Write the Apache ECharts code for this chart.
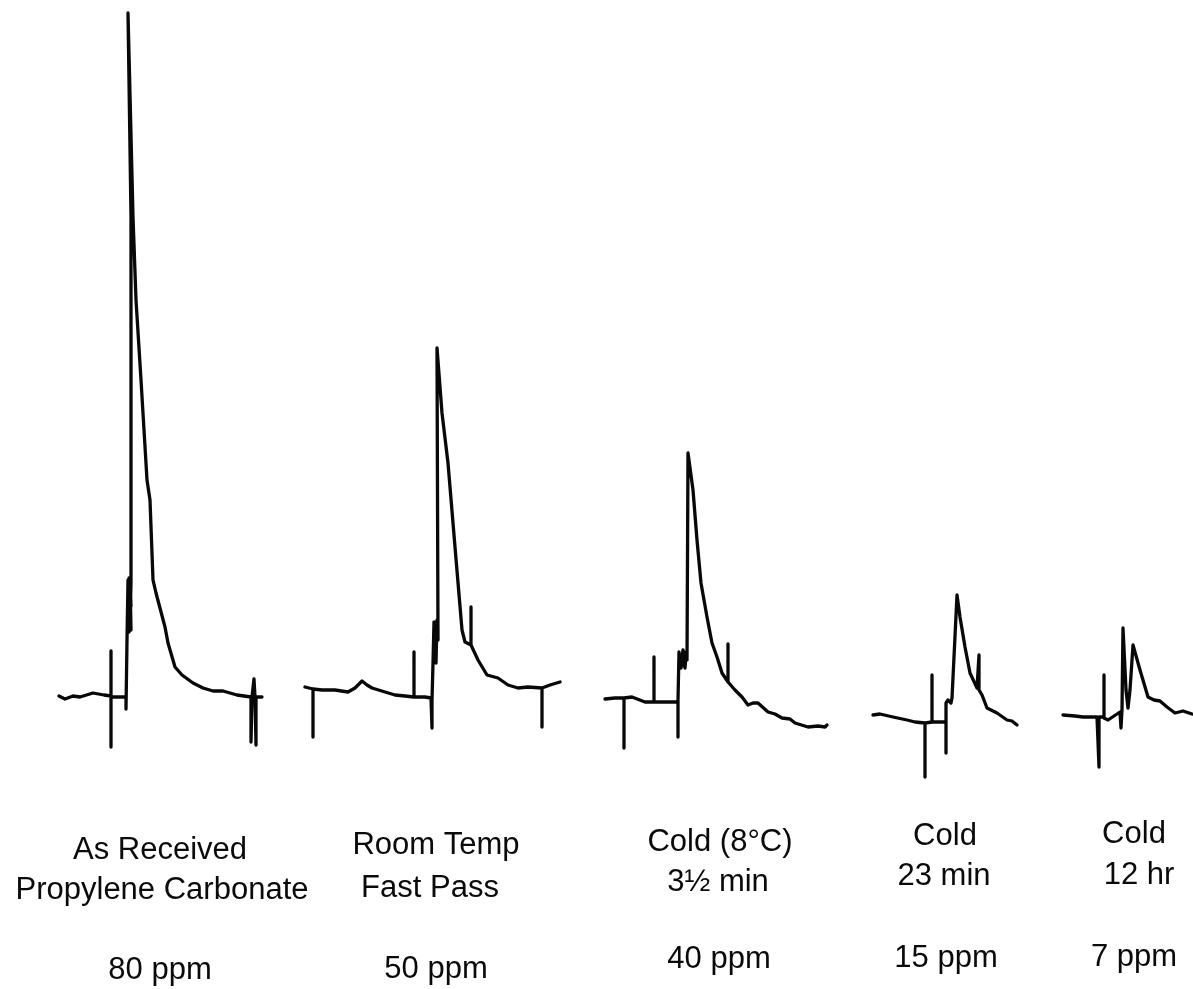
<!DOCTYPE html>
<html>
<head>
<meta charset="utf-8">
<title>Propylene Carbonate water traces</title>
<script src="https://cdn.jsdelivr.net/npm/echarts@6/dist/echarts.min.js"></script>
<style>
  html, body { margin: 0; padding: 0; background: #ffffff; }
  #chart { width: 1193px; height: 989px; }
</style>
</head>
<body>
<div id="chart"></div>
<script>
// Detector traces: [chart time, signal above baseline]; vertical event marks are part of each pen trace.
const traceAsReceived = [
  [0,0],[6,-3],[14,0],[21,-1],[34,3],[45,1],[52,0],[52,45],[52,-51],[52,-1],[59,-1],[67,-1],[67,-13],
  [68,56],[69,116],[70,64],[71,118],[72,66],[70,112],[71,70],[72,114],[69,80],[70,118],[72,90],[71,116],
  [72,111],[72,396],[72,479],[69,683],
  [74,479],[77,396],[82,316],[88,216],[91,196],[94,116],[97,103],[106,69],[109,53],[116,29],[123,21],
  [134,13],[144,8],[154,5],[164,5],[178,1],[192,-1],[192,-46],[193,-1],[195,-1],[195,17],[196,-1],
  [197,-1],[197,-49],[197,-1],[203,-1]
];
const traceRoomTemp = [
  [0,3],[8,1],[8,-47],[8,1],[17,0],[30,0],[43,-2],[50,2],[57,9],[62,5],[67,2],[80,-2],[90,-5],[100,-6],
  [109,-7],[109,38],[109,-7],[120,-7],[126,-8],[127,-38],[127,-10],[128,27],[129,68],[131,27],[132,70],
  [130,30],[131,66],[129,35],[132,62],[133,50],[132,342],[137,277],[143,227],[150,143],[157,60],[160,48],
  [166,45],[166,83],[166,45],
  [173,30],[182,15],[193,12],[203,5],[213,2],[223,3],[237,2],[237,-37],[237,2],[245,5],[255,8]
];
const traceCold35min = [
  [0,1],[10,2],[19,2],[19,-48],[19,2],[27,3],[40,-2],[49,-2],[49,43],[49,-2],[60,-2],[73,-2],[73,-37],
  [73,0],[74,48],[76,32],[78,50],[80,32],[81,45],[77,34],[79,48],[82,40],[83,247],[88,210],[92,160],
  [96,117],[102,83],[107,57],
  [112,43],[117,27],[123,18],[123,56],[123,18],[130,10],[137,3],[143,-5],[148,-3],[153,-3],[163,-12],
  [170,-14],[177,-18],[185,-19],[190,-23],[203,-27],[213,-26],[220,-27],[222,-25]
];
const traceCold23min = [
  [0,1],[7,2],[20,-1],[34,-4],[42,-6],[52,-7],[52,-61],[52,-7],[59,-6],[59,41],[59,-6],[70,-6],[73,-6],
  [73,-37],[73,13],[75,16],[78,13],[79,18],[84,121],[87,99],[92,69],[97,43],[104,28],[106,26],[106,61],
  [106,26],[109,21],[114,8],[124,3],[134,-4],[139,-5],[144,-9]
];
const traceCold12hr = [
  [0,1],[12,0],[20,-1],[34,-1],[36,-1],[36,-51],[36,-1],[41,-1],[41,41],[41,-2],[45,-4],[51,0],[57,4],
  [58,-12],[59,6],[60,88],[63,26],[65,8],[67,26],[70,71],[77,46],[85,19],[91,16],[97,15],[104,9],
  [112,3],[120,5],[129,2]
];

// Sample descriptions and measured water content
const sampleLine1 = ['As Received', 'Room Temp', 'Cold (8°C)', 'Cold', 'Cold'];
const sampleLine2 = ['Propylene Carbonate', 'Fast Pass', '3½ min', '23 min', '12 hr'];
const waterContent = ['80 ppm', '50 ppm', '40 ppm', '15 ppm', '7 ppm'];

const traces = [traceAsReceived, traceRoomTemp, traceCold35min, traceCold23min, traceCold12hr];

// Page layout: where each chromatogram starts and where its baseline sits
const W = 1193, H = 989;
const traceLeft = [59, 305, 605, 873, 1063];
const traceBaseline = [696, 690, 700, 716, 716];

// Label placement (centre x, middle y) for the three text rows
const labelX = [
  [160, 162, 160],
  [436, 430, 436],
  [720, 718, 719],
  [945, 944, 946],
  [1134, 1139, 1134]
];
const labelY = [
  [850, 890, 970],
  [845, 888, 969],
  [842, 882, 959],
  [836, 876, 958],
  [834, 875, 957]
];

const grids = [], xAxes = [], yAxes = [], series = [];
traces.forEach((data, i) => {
  // one chart-time unit per pixel: panel spans exactly the recorded length
  const span = Math.max(...data.map(d => d[0]));
  grids.push({ left: traceLeft[i], top: 0, width: span, height: H, containLabel: false, show: false });
  xAxes.push({ type: 'value', gridIndex: i, min: 0, max: span, show: false });
  yAxes.push({ type: 'value', gridIndex: i, min: traceBaseline[i] - H, max: traceBaseline[i], show: false });
  series.push({
    type: 'line',
    xAxisIndex: i,
    yAxisIndex: i,
    data: data,
    showSymbol: false,
    clip: false,
    silent: true,
    animation: false,
    lineStyle: { color: '#080808', width: 3.3, join: 'round', cap: 'round' }
  });
});

const font = '"Liberation Sans", Arial, Helvetica, sans-serif';
const graphics = [];
sampleLine1.forEach((_, i) => {
  const rows = [sampleLine1[i], sampleLine2[i], waterContent[i]];
  rows.forEach((txt, r) => {
    graphics.push({
      type: 'text',
      x: labelX[i][r],
      y: labelY[i][r],
      silent: true,
      style: {
        text: txt,
        fill: '#0a0a0a',
        font: '31px ' + font,
        textAlign: 'center',
        textVerticalAlign: 'middle'
      }
    });
  });
});

const chart = echarts.init(document.getElementById('chart'), null, { renderer: 'canvas', width: W, height: H });
chart.setOption({
  backgroundColor: '#ffffff',
  animation: false,
  grid: grids,
  xAxis: xAxes,
  yAxis: yAxes,
  series: series,
  graphic: graphics
});
</script>
</body>
</html>
